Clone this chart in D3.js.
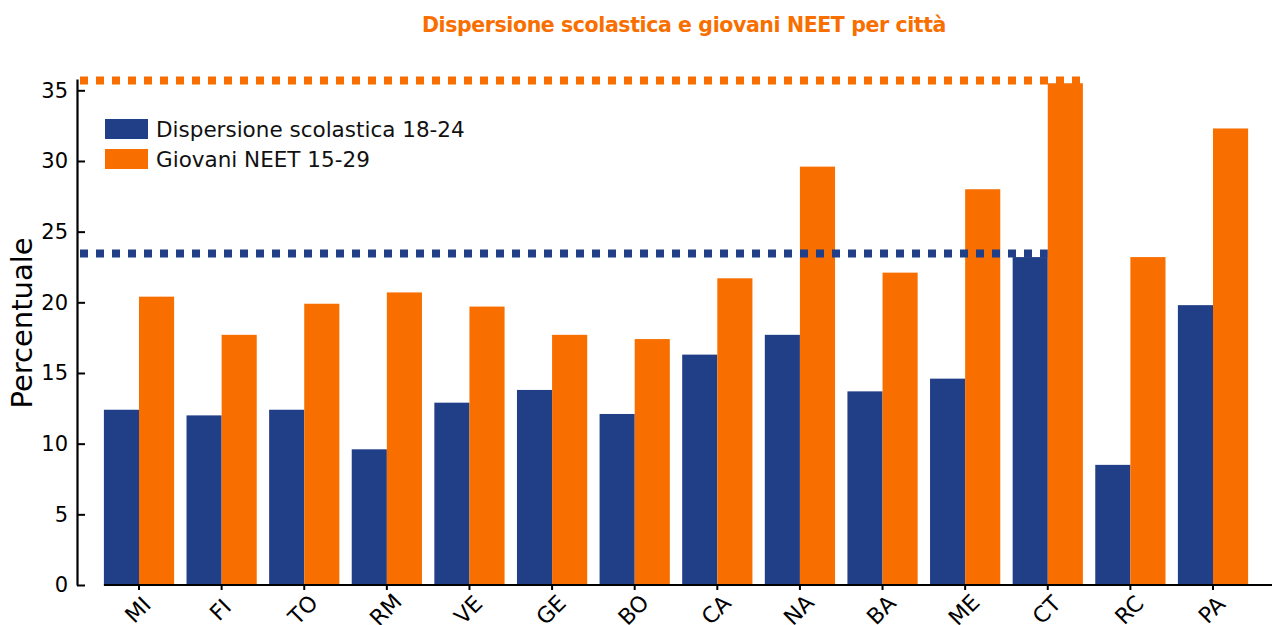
<!DOCTYPE html>
<html>
<head>
<meta charset="utf-8">
<script src="https://cdn.jsdelivr.net/npm/d3@7"></script>
<style>
  body { margin: 0; background: #fff; }
  svg { display: block; font-family: "DejaVu Sans", sans-serif; }
</style>
</head>
<body>
<div id="chart"></div>
<script>
// Dispersione scolastica vs giovani NEET, per città

var cities = ["MI", "FI", "TO", "RM", "VE", "GE", "BO", "CA", "NA", "BA", "ME", "CT", "RC", "PA"];
var dispersione = [12.4, 12.0, 12.4, 9.6, 12.9, 13.8, 12.1, 16.3, 17.7, 13.7, 14.6, 23.2, 8.5, 19.8];
var neet = [20.4, 17.7, 19.9, 20.7, 19.7, 17.7, 17.4, 21.7, 29.6, 22.1, 28.0, 35.5, 23.2, 32.3];
var seriesNames = ["Dispersione scolastica 18-24", "Giovani NEET 15-29"];
var refValues = [23.45, 35.7];   // linee tratteggiate (blu, arancio)
var yTicks = [0, 5, 10, 15, 20, 25, 30, 35];

var blue = "#213f87";
var orange = "#f86f00";
var font = "DejaVu Sans, sans-serif";

var svgWidth = 1272;
var svgHeight = 625;

var svg = d3.select("#chart")
  .append("svg")
  .attr("width", svgWidth)
  .attr("height", svgHeight);

// scales
var x = d3.scaleBand()
  .domain(cities)
  .range([97.7, 1254.3])
  .padding(0);

var inner = d3.scaleBand()
  .domain([0, 1])
  .range([0, x.bandwidth() * 0.85]);

var groupOffset = (x.bandwidth() - x.bandwidth() * 0.85) / 2;

var y = d3.scaleLinear()
  .domain([0, 35.8])
  .range([585, 79]);

// title
svg.append("text")
  .attr("x", 684)
  .attr("y", 32)
  .attr("text-anchor", "middle")
  .attr("fill", orange)
  .attr("font-size", 20.5)
  .attr("font-weight", 700)
  .attr("letter-spacing", -0.4)
  .text("Dispersione scolastica e giovani NEET per città");

// bars
var data = cities.map(function(c, i) {
  return {city: c, values: [dispersione[i], neet[i]]};
});

var groups = svg.append("g")
  .selectAll("g")
  .data(data)
  .enter()
  .append("g")
  .attr("transform", d => `translate(${x(d.city) + groupOffset},0)`);

groups.selectAll("rect")
  .data(d => d.values.map((v, k) => ({k: k, v: v})))
  .enter()
  .append("rect")
  .attr("x", d => inner(d.k))
  .attr("width", inner.bandwidth())
  .attr("y", d => y(d.v))
  .attr("height", d => y(0) - y(d.v))
  .attr("fill", d => d.k === 0 ? blue : orange);

// dotted reference lines (fino alla barra di CT)
var ctIndex = cities.indexOf("CT");
[0, 1].forEach(function(k) {
  var xEnd = x(cities[ctIndex]) + groupOffset + inner(k) + inner.bandwidth();
  svg.append("line")
    .attr("x1", 80)
    .attr("x2", xEnd)
    .attr("y1", y(refValues[k]))
    .attr("y2", y(refValues[k]))
    .attr("stroke", k === 0 ? blue : orange)
    .attr("stroke-width", 8)
    .attr("stroke-dasharray", "8,8");
});

// y axis
var yAxis = svg.append("g")
  .attr("transform", "translate(77,0)")
  .call(d3.axisLeft(y).tickValues(yTicks).tickSizeInner(-8).tickSizeOuter(0).tickPadding(10));

yAxis.select(".domain").attr("stroke", "#000").attr("stroke-width", 2.2);
yAxis.selectAll(".tick line").attr("stroke", "#000").attr("stroke-width", 2);
yAxis.selectAll(".tick text")
  .attr("x", -9)
  .attr("font-size", 21)
  .attr("font-family", font)
  .attr("fill", "#000");

// x axis
var xLeft = x(cities[0]) + groupOffset;
var xAxis = svg.append("g")
  .attr("transform", `translate(0,${y(0)})`)
  .call(d3.axisBottom(x).tickSizeInner(5).tickSizeOuter(0));

xAxis.select(".domain")
  .attr("d", `M${xLeft},0H${svgWidth}`)
  .attr("stroke", "#000")
  .attr("stroke-width", 2.2);
xAxis.selectAll(".tick line").attr("stroke", "#000").attr("stroke-width", 2);
xAxis.selectAll(".tick text")
  .attr("y", 0)
  .attr("dy", 0)
  .attr("transform", "translate(0,26) rotate(-45)")
  .attr("text-anchor", "middle")
  .attr("dominant-baseline", "middle")
  .attr("font-size", 22)
  .attr("font-family", font)
  .attr("fill", "#000");

// y label
svg.append("text")
  .attr("transform", "translate(32,323) rotate(-90)")
  .attr("text-anchor", "middle")
  .attr("font-size", 29)
  .attr("fill", "#000")
  .text("Percentuale");

// legend
var legend = svg.append("g").attr("transform", "translate(105,119)");
seriesNames.forEach(function(name, k) {
  var row = legend.append("g").attr("transform", `translate(0,${k * 30})`);
  row.append("rect")
    .attr("width", 43)
    .attr("height", 20)
    .attr("fill", k === 0 ? blue : orange);
  row.append("text")
    .attr("x", 51)
    .attr("y", 18)
    .attr("font-size", 21.5)
    .attr("fill", "#111")
    .text(name);
});
</script>
</body>
</html>
